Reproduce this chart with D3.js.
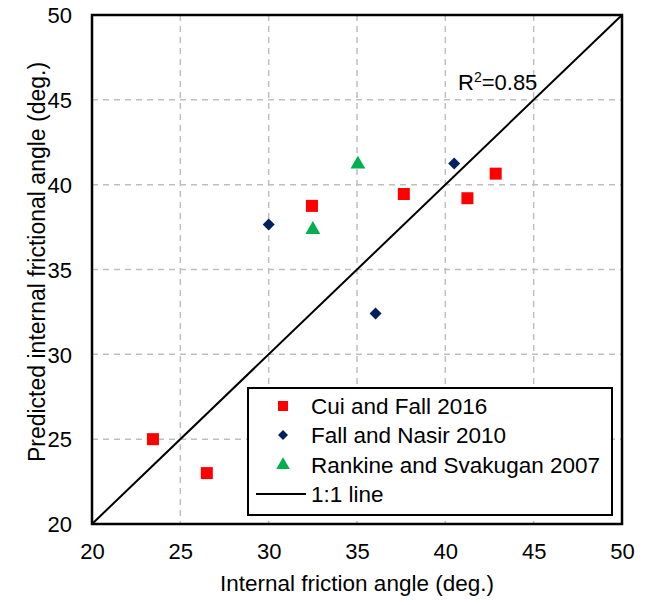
<!DOCTYPE html>
<html><head><meta charset="utf-8">
<script src="https://cdn.jsdelivr.net/npm/d3@7"></script>
<style>body{margin:0;background:#fff}text{font-family:"Liberation Sans",Arial,sans-serif}</style>
</head><body><svg id="c" width="656" height="605"></svg>
<script>
const cuiFall2016 = [[23.45,25.0],[26.5,23.0],[32.45,38.75],[37.65,39.45],[41.25,39.2],[42.85,40.65]];
const fallNasir2010 = [[30.0,37.65],[40.5,41.25],[36.05,32.4]];
const rankineSvakugan2007 = [[32.5,37.35],[35.05,41.2]];
const oneToOne = [[20,20],[50,50]];
const ticks = [20,25,30,35,40,45,50];
const legendLabels = ["Cui and Fall 2016","Fall and Nasir 2010","Rankine and Svakugan 2007","1:1 line"];

const svg = d3.select("#c");
const L=92, R=622, T=15, B=524;
const x = d3.scaleLinear().domain([20,50]).range([L,R]);
const y = d3.scaleLinear().domain([20,50]).range([B,T]);
const FS = 22;

// grid
const g = svg.append("g");
g.selectAll(".gx").data(ticks.slice(1,-1)).enter().append("line")
 .attr("x1",d=>x(d)).attr("x2",d=>x(d)).attr("y1",T).attr("y2",B)
 .attr("stroke","#bfbfbf").attr("stroke-width",1.5).attr("stroke-dasharray","6,5");
g.selectAll(".gy").data(ticks.slice(1,-1)).enter().append("line")
 .attr("y1",d=>y(d)).attr("y2",d=>y(d)).attr("x1",L).attr("x2",R)
 .attr("stroke","#bfbfbf").attr("stroke-width",1.5).attr("stroke-dasharray","6,5");

// axes
const xa = svg.append("g").attr("transform",`translate(0,${B})`)
 .call(d3.axisBottom(x).tickValues(ticks).tickSize(0).tickPadding(19));
const ya = svg.append("g").attr("transform",`translate(${L},0)`)
 .call(d3.axisLeft(y).tickValues(ticks).tickSize(0).tickPadding(20));
[xa,ya].forEach(a=>{a.select(".domain").remove();a.selectAll("text").attr("font-size",FS).attr("fill","#000").style("font-family","'Liberation Sans',Arial,sans-serif");});
ya.selectAll("text").attr("dy","0.35em");

// 1:1 line
const line = d3.line().x(d=>x(d[0])).y(d=>y(d[1]));
svg.append("path").attr("d",line(oneToOne)).attr("stroke","#000").attr("stroke-width",2).attr("fill","none");

// border
svg.append("rect").attr("x",L).attr("y",T).attr("width",R-L).attr("height",B-T)
 .attr("fill","none").attr("stroke","#000").attr("stroke-width",2.5);

// markers
const sq = d3.symbol().type(d3.symbolSquare).size(144);
const tri = d3.symbol().type(d3.symbolTriangle).size(95);
function diamondPath(s){return `M0,${-s}L${s},0L0,${s}L${-s},0Z`;}
svg.selectAll(".cui").data(cuiFall2016).enter().append("path")
 .attr("d",sq()).attr("fill","#ff0000").attr("transform",d=>`translate(${x(d[0])},${y(d[1])})`);
svg.selectAll(".fall").data(fallNasir2010).enter().append("path")
 .attr("d",diamondPath(6)).attr("fill","#002060").attr("transform",d=>`translate(${x(d[0])},${y(d[1])})`);
svg.selectAll(".rank").data(rankineSvakugan2007).enter().append("path")
 .attr("d",tri()).attr("fill","#00b050").attr("transform",d=>`translate(${x(d[0])},${y(d[1])})`);

// R2 label
const rt = svg.append("text").attr("x",458).attr("y",90).attr("font-size",FS).attr("fill","#000");
rt.append("tspan").text("R");
rt.append("tspan").text("2").attr("font-size",14).attr("dy",-8);
rt.append("tspan").text("=0.85").attr("dy",8);

// legend
const lg = svg.append("g");
lg.append("rect").attr("x",248).attr("y",388).attr("width",364).attr("height",127)
 .attr("fill","#fff").attr("stroke","#000").attr("stroke-width",2);
const rowsY = [406,435,465,494];
lg.append("path").attr("d",sq.size(100)()).attr("fill","#ff0000").attr("transform",`translate(283,${rowsY[0]})`);
lg.append("path").attr("d",diamondPath(5)).attr("fill","#002060").attr("transform",`translate(283,${rowsY[1]})`);
lg.append("path").attr("d",tri.size(80)()).attr("fill","#00b050").attr("transform",`translate(283,${rowsY[2]})`);
lg.append("line").attr("x1",256).attr("x2",306).attr("y1",rowsY[3]).attr("y2",rowsY[3]).attr("stroke","#000").attr("stroke-width",2);
lg.selectAll(".lt").data(legendLabels).enter().append("text")
 .attr("x",311).attr("y",(d,i)=>rowsY[i]).attr("dy","0.35em").attr("font-size",22.5).attr("fill","#000").text(d=>d);

// axis titles
svg.append("text").attr("x",357).attr("y",591).attr("text-anchor","middle").attr("font-size",22.5).text("Internal friction angle (deg.)");
svg.append("text").attr("transform",`translate(45,262) rotate(-90)`).attr("text-anchor","middle").attr("font-size",23).text("Predicted internal frictional angle (deg.)");
</script></body></html>
